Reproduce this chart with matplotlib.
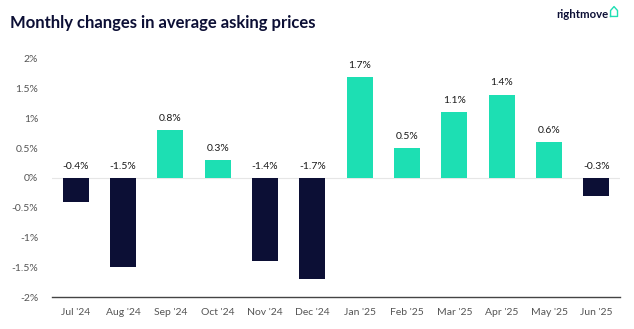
import numpy as np
import matplotlib.pyplot as plt

plt.rcParams['font.family'] = ['Lato', 'DejaVu Sans']

months = ["Jul '24", "Aug '24", "Sep '24", "Oct '24", "Nov '24", "Dec '24",
          "Jan '25", "Feb '25", "Mar '25", "Apr '25", "May '25", "Jun '25"]
changes = [-0.4, -1.5, 0.8, 0.3, -1.4, -1.7, 1.7, 0.5, 1.1, 1.4, 0.6, -0.3]
yticks = [-2, -1.5, -1, -0.5, 0, 0.5, 1, 1.5, 2]

teal = '#1ddfb3'
navy = '#0c0f35'

fig = plt.figure(figsize=(6.34, 3.29), dpi=100)
ax = fig.add_axes([0.082, 0.097, 0.896, 0.724])

x = np.arange(len(months))
colors = [teal if v > 0 else navy for v in changes]
ax.bar(x, changes, width=0.55, color=colors, zorder=3)

for xi, v in zip(x, changes):
    top = max(v, 0)
    ax.text(xi, top + 0.12, f"{v:g}%", ha='center', va='bottom',
            fontsize=7.5, color='#1a1a1a')

ax.axhline(0, color='#e6e6e6', lw=0.8, zorder=1)
ax.set_xlim(-0.5, len(months) - 0.5)
ax.set_ylim(-2, 2)
ax.set_yticks(yticks)
ax.set_yticklabels([f"{t:g}%" for t in yticks])
ax.set_xticks(x)
ax.set_xticklabels(months)
ax.tick_params(axis='both', length=0, labelsize=7.5, colors='#555555')
ax.tick_params(axis='x', pad=8)
ax.tick_params(axis='y', pad=10)
for side in ['top', 'right', 'left']:
    ax.spines[side].set_visible(False)
ax.spines['bottom'].set_color('#444444')
ax.spines['bottom'].set_linewidth(1.0)

fig.text(0.016, 0.93, "Monthly changes in average asking prices",
         fontsize=12, fontweight='bold', color='#0c0f35', va='center')
fig.text(0.96, 0.955, "rightmove", fontsize=8.2, fontweight='bold',
         color='#0c0f35', ha='right', va='center')

# small house outline next to the logo text
hx, hy, hw, hh = 0.963, 0.95, 0.011, 0.03
house = [(hx, hy), (hx, hy + hh * 0.6), (hx + hw / 2, hy + hh),
         (hx + hw, hy + hh * 0.6), (hx + hw, hy), (hx, hy)]
fig.add_artist(plt.Line2D([p[0] for p in house], [p[1] for p in house],
                          color=teal, lw=1.0, transform=fig.transFigure))

fig.savefig('out.png', dpi=100)
